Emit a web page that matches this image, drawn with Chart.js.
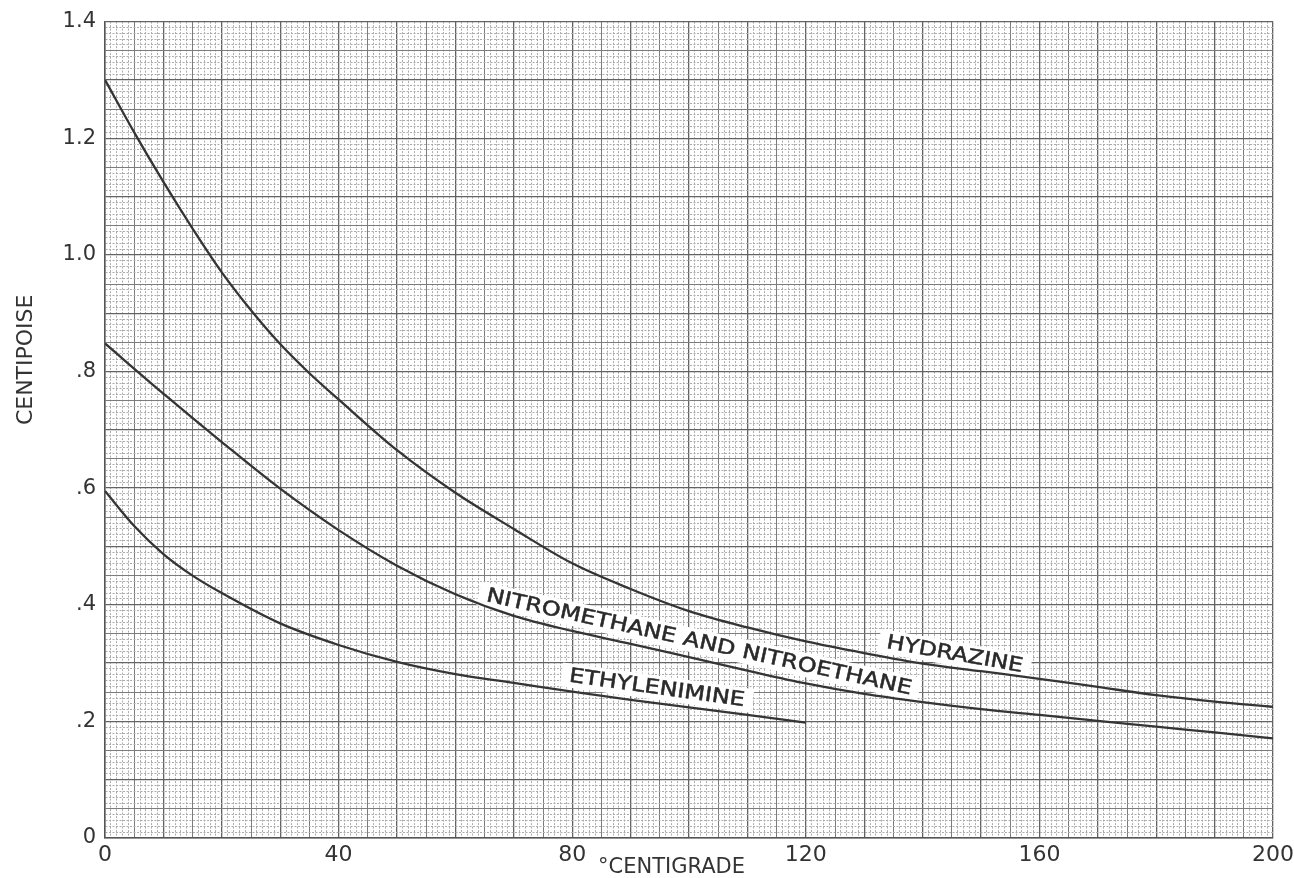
<!DOCTYPE html>
<html>
<head>
<meta charset="utf-8">
<title>Viscosity vs temperature</title>
<script src="https://cdn.jsdelivr.net/npm/chart.js@4.4.1/dist/chart.umd.min.js"></script>
<style>
  body { margin: 0; background: #fff; }
  #wrap { width: 1294px; height: 878px; position: relative; }
</style>
</head>
<body>
<div id="wrap"><canvas id="myChart"></canvas></div>
<script>
// data (temperature in deg C, viscosity in centipoise)
const hydrazineTemp = [0, 5, 10, 15, 20, 25, 30, 35, 40, 50, 60, 70, 80, 90, 100, 110, 120, 130, 140, 150, 160, 170, 180, 190, 200];
const hydrazineVisc = [1.30, 1.21, 1.125, 1.045, 0.97, 0.905, 0.847, 0.797, 0.752, 0.665, 0.592, 0.530, 0.471, 0.427, 0.389, 0.361, 0.337, 0.317, 0.299, 0.286, 0.273, 0.259, 0.245, 0.234, 0.225];

const nitroTemp = [0, 10, 20, 30, 40, 50, 60, 70, 80, 90, 100, 110, 120, 130, 140, 150, 160, 170, 180, 190, 200];
const nitroVisc = [0.848, 0.762, 0.679, 0.599, 0.528, 0.467, 0.418, 0.381, 0.355, 0.333, 0.310, 0.287, 0.265, 0.247, 0.233, 0.221, 0.211, 0.201, 0.191, 0.181, 0.171];

const ethylTemp = [0, 5, 10, 15, 20, 30, 40, 50, 60, 70, 80, 90, 100, 110, 120];
const ethylVisc = [0.595, 0.535, 0.487, 0.450, 0.420, 0.368, 0.331, 0.302, 0.281, 0.266, 0.251, 0.237, 0.224, 0.211, 0.198];

// tick labels
const xTickLabels = ['0', '40', '80', '120', '160', '200'];
const yTickLabels = ['0', '.2', '.4', '.6', '.8', '1.0', '1.2', '1.4'];

// curve names written along the lines
const curveLabels = [
  { text: 'NITROMETHANE AND NITROETHANE', x: 101.7, y: 0.335, angle: 12.4, width: 435 },
  { text: 'HYDRAZINE', x: 145.5, y: 0.314, angle: 10, width: 138 },
  { text: 'ETHYLENIMINE', x: 94.5, y: 0.256, angle: 8, width: 177 }
];

const FONT = '"DejaVu Sans", "Liberation Sans", sans-serif';

function toPoints(xs, ys) {
  return xs.map((x, i) => ({ x: x, y: ys[i] }));
}

// graph paper: heavy every 10 small squares, medium every 5, fine otherwise
function gridLevel(n) {
  if (n % 10 === 0) return 2;
  if (n % 5 === 0) return 1;
  return 0;
}

function gridColor(n) {
  return ['#acacac', '#7c7c7c', '#636363'][gridLevel(n)];
}

function gridWidth(n) {
  return [1, 1, 1.3][gridLevel(n)];
}

function xIndex(ctx) {
  return ctx.tick ? Math.round(ctx.tick.value) : 0;
}

function yIndex(ctx) {
  return ctx.tick ? Math.round(ctx.tick.value * 100) : 0;
}

// white label strips along the curves, drawn over the grid but under the lines
const curveLabelPlugin = {
  id: 'curveLabels',
  beforeDatasetsDraw(chart) {
    const ctx = chart.ctx;
    const xs = chart.scales.x;
    const ys = chart.scales.y;
    curveLabels.forEach(lab => {
      const px = xs.getPixelForValue(lab.x);
      const py = ys.getPixelForValue(lab.y);
      ctx.save();
      ctx.translate(px, py);
      ctx.rotate(lab.angle * Math.PI / 180);
      ctx.font = '20px ' + FONT;
      const w = ctx.measureText(lab.text).width;
      const sx = lab.width / w;
      ctx.fillStyle = '#ffffff';
      ctx.fillRect(-lab.width / 2 - 8, -13, lab.width + 16, 24);
      ctx.scale(sx, 1);
      ctx.fillStyle = '#2a2a2a';
      ctx.strokeStyle = '#2a2a2a';
      ctx.lineWidth = 0.5;
      ctx.textAlign = 'center';
      ctx.textBaseline = 'middle';
      ctx.fillText(lab.text, 0, 0);
      ctx.strokeText(lab.text, 0, 0);
      ctx.restore();
    });
  },
  afterDraw(chart) {
    const ctx = chart.ctx;
    const area = chart.chartArea;
    const xs = chart.scales.x;
    const ys = chart.scales.y;
    ctx.save();
    ctx.fillStyle = '#333';
    ctx.textAlign = 'center';
    ctx.textBaseline = 'middle';
    // x title
    ctx.font = '21px ' + FONT;
    ctx.fillText('°CENTIGRADE', xs.getPixelForValue(97), area.bottom + 30);
    // y title
    ctx.font = '22px ' + FONT;
    ctx.translate(area.left - 79, ys.getPixelForValue(0.82));
    ctx.rotate(-Math.PI / 2);
    ctx.fillText('CENTIPOISE', 0, 0);
    ctx.restore();
  }
};

function lineSet(label, xs, ys) {
  return {
    label: label,
    data: toPoints(xs, ys),
    borderColor: '#353535',
    borderWidth: 2.3,
    pointRadius: 0,
    fill: false,
    cubicInterpolationMode: 'monotone'
  };
}

function drawChart() {
  const ctx = document.getElementById('myChart').getContext('2d');
  const config = {
    type: 'line',
    data: {
      datasets: [
        lineSet('Hydrazine', hydrazineTemp, hydrazineVisc),
        lineSet('Nitromethane and Nitroethane', nitroTemp, nitroVisc),
        lineSet('Ethylenimine', ethylTemp, ethylVisc)
      ]
    },
    options: {
      responsive: true,
      maintainAspectRatio: false,
      animation: false,
      layout: { padding: { top: 21, right: 21, left: 0, bottom: 0 } },
      plugins: { legend: { display: false }, tooltip: { enabled: false } },
      scales: {
        x: {
          type: 'linear',
          min: 0,
          max: 200,
          afterFit: s => { s.height = 40; s.paddingLeft = 0; s.paddingRight = 0; },
          ticks: {
            stepSize: 1,
            autoSkip: false,
            maxRotation: 0,
            padding: 4,
            color: '#333',
            font: { family: FONT, size: 22 },
            callback: v => (Math.round(v) % 40 === 0 ? xTickLabels[Math.round(v) / 40] : '')
          },
          grid: {
            drawTicks: false,
            color: c => gridColor(xIndex(c)),
            lineWidth: c => gridWidth(xIndex(c))
          },
          border: {
            color: '#555',
            width: 1.5,
            dash: c => (c.tick && gridLevel(xIndex(c)) === 0 ? [2, 1.5] : [])
          }
        },
        y: {
          type: 'linear',
          min: 0,
          max: 1.4,
          afterFit: s => { s.width = 105; },
          ticks: {
            stepSize: 0.01,
            autoSkip: false,
            padding: 9,
            color: '#333',
            font: { family: FONT, size: 21 },
            callback: v => {
              const n = Math.round(v * 100);
              return n % 20 === 0 ? yTickLabels[n / 20] : '';
            }
          },
          grid: {
            drawTicks: false,
            color: c => gridColor(yIndex(c)),
            lineWidth: c => gridWidth(yIndex(c))
          },
          border: {
            color: '#555',
            width: 1.5,
            dash: c => (c.tick && gridLevel(yIndex(c)) === 0 ? [2, 1.5] : [])
          }
        }
      }
    },
    plugins: [curveLabelPlugin]
  };
  return new Chart(ctx, config);
}

drawChart();
</script>
</body>
</html>
